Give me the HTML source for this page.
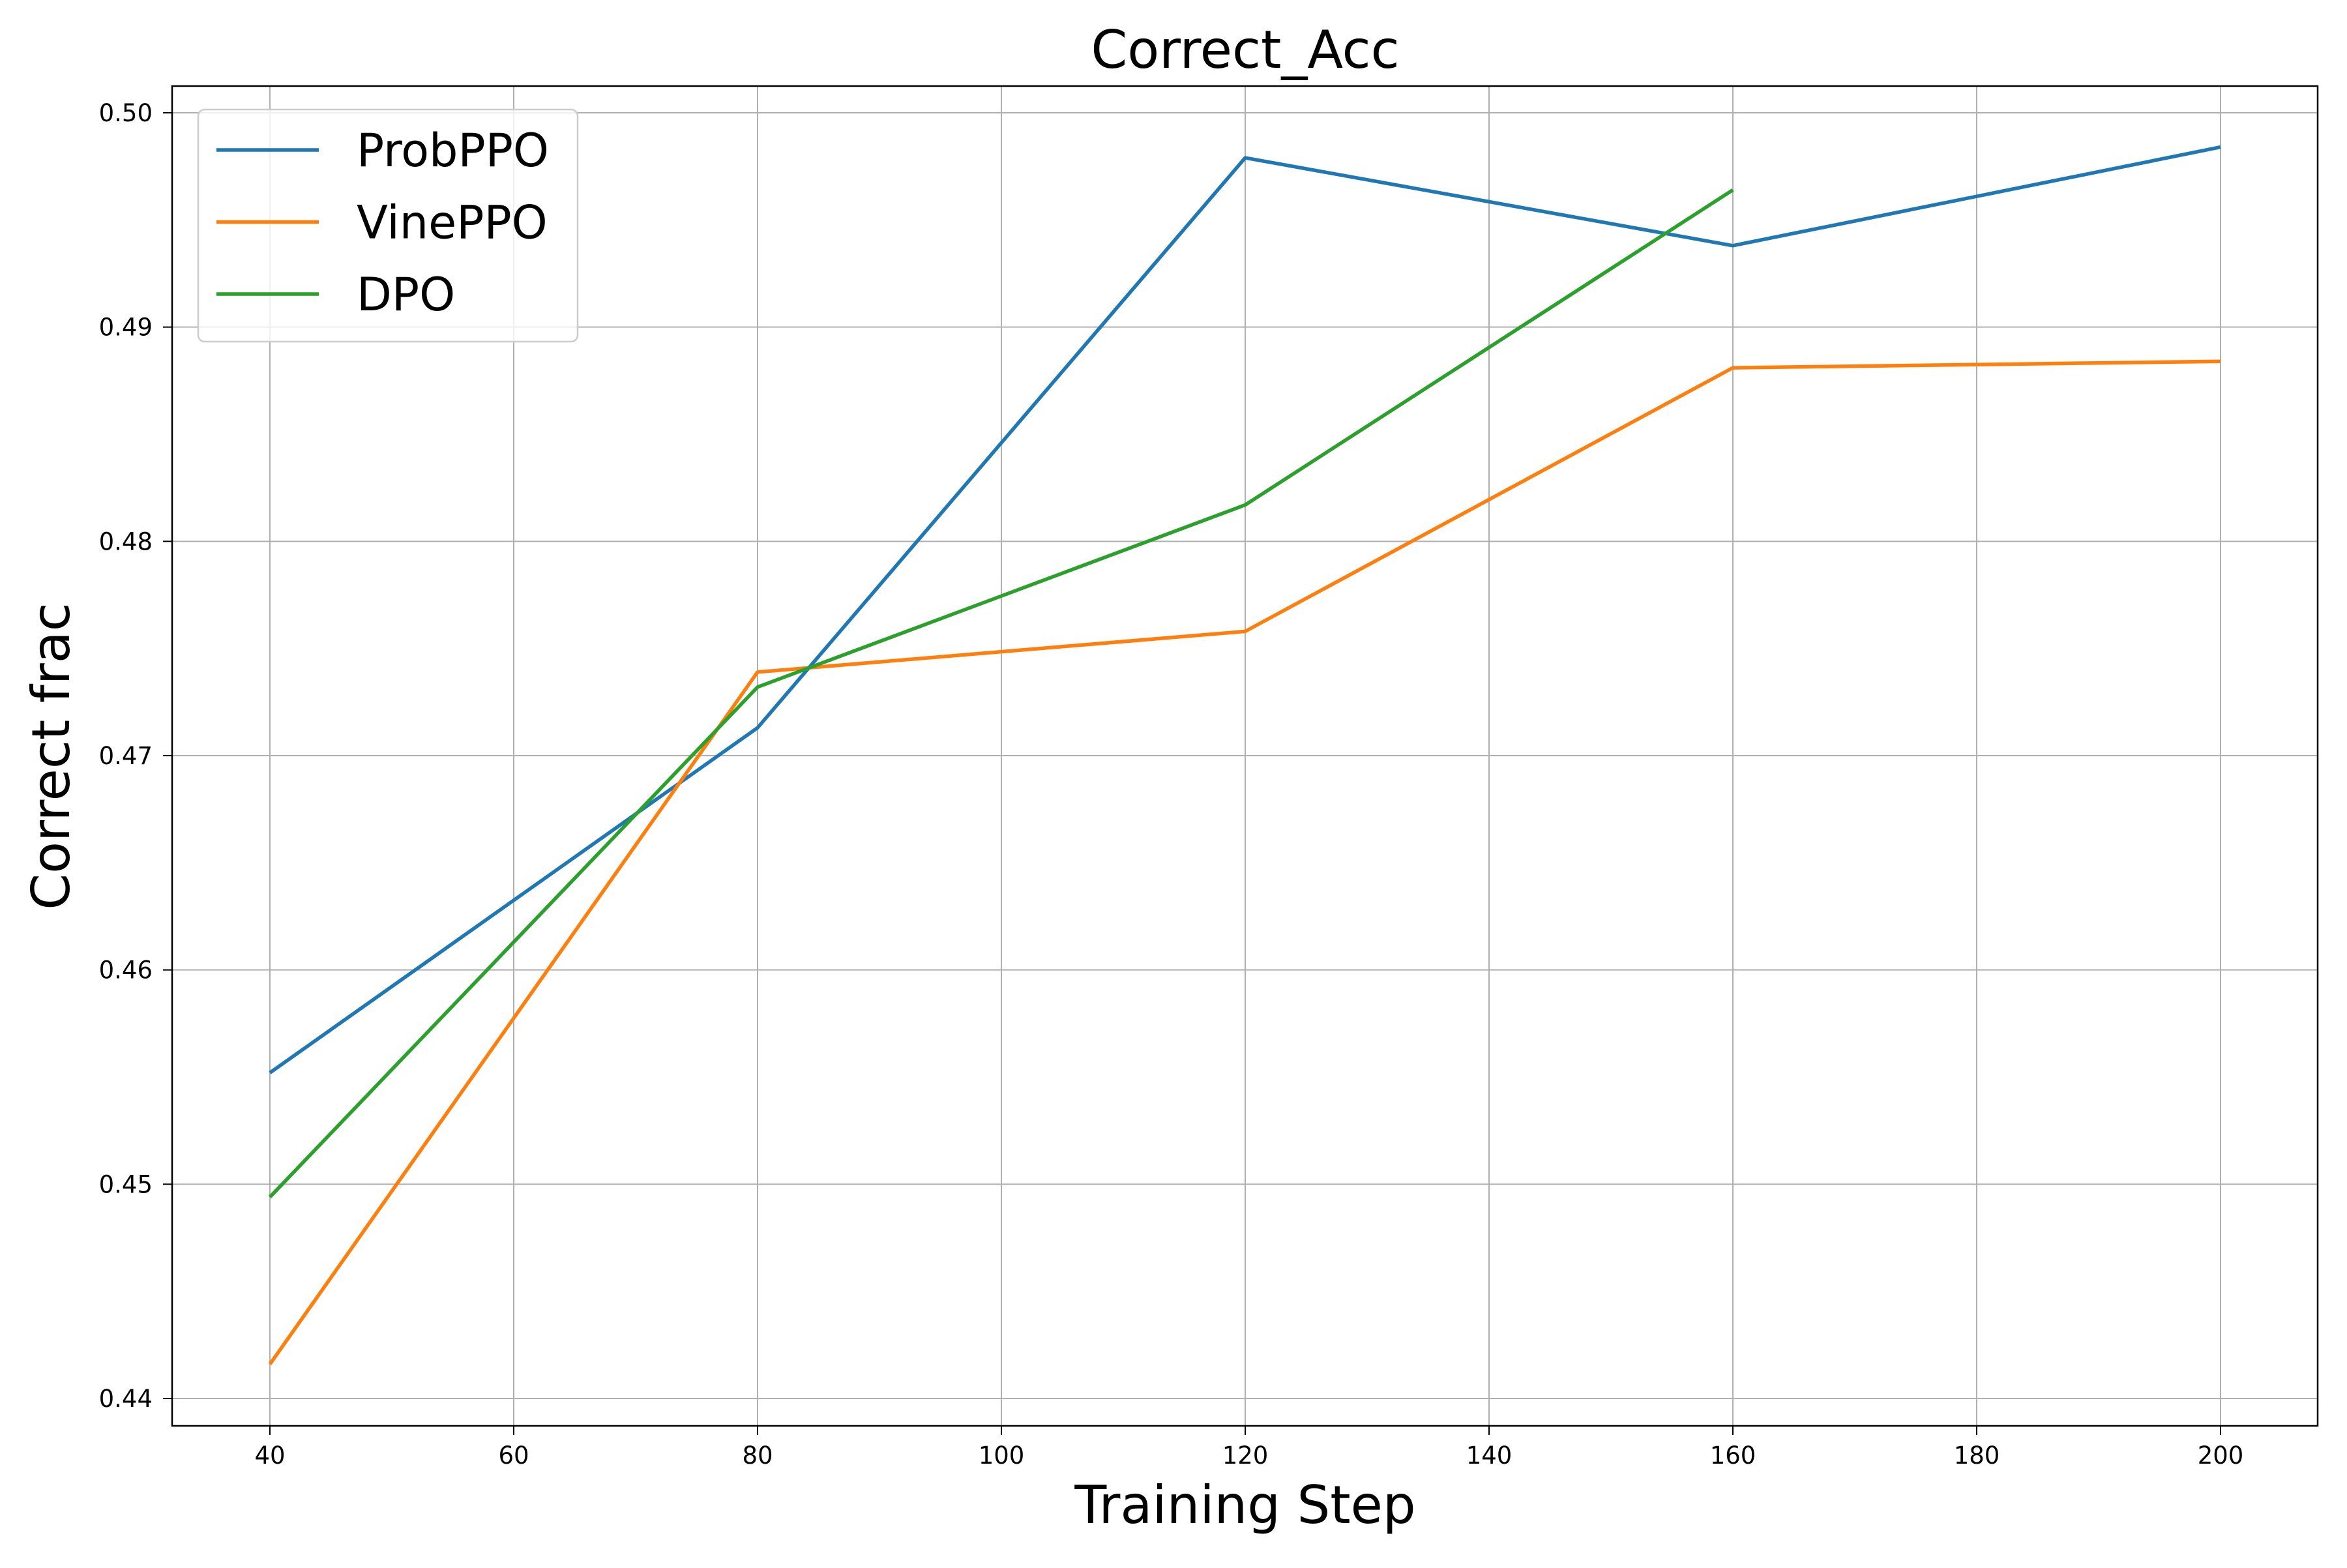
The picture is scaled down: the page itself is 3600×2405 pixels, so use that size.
<!DOCTYPE html>
<html><head><meta charset="utf-8"><style>
html,body{margin:0;padding:0;background:#fff;}
svg text{font-family:"DejaVu Sans","Liberation Sans",sans-serif;}
</style></head><body>
<svg id="chart" width="3600" height="2400" viewBox="0 0 3600 2400" xmlns="http://www.w3.org/2000/svg">
<rect width="3600" height="2400" fill="#fff"/>
<g id="grid"></g>
<g id="ticks"></g>
<g id="series"></g>
<rect x="264" y="132" width="3291" height="2055" fill="none" stroke="#000" stroke-width="2.5"/>
<text x="1910" y="104" font-size="80" text-anchor="middle">Correct_Acc</text>
<text x="1910" y="2336" font-size="80" text-anchor="middle">Training Step</text>
<text x="0" y="0" font-size="80" text-anchor="middle" transform="translate(106,1160) rotate(-90)">Correct frac</text>
<g id="legend"></g>
</svg>
<script>
const steps=[40,80,120,160,200];
const probPPO=[0.4552,0.4713,0.4979,0.4938,0.4984];
const vinePPO=[0.4416,0.4739,0.4758,0.4881,0.4884];
const dpo=[0.4494,0.4732,0.4817,0.4964];
const xTicks=[40,60,80,100,120,140,160,180,200];
const yTicks=[0.44,0.45,0.46,0.47,0.48,0.49,0.50];
const yTickLabels=["0.44","0.45","0.46","0.47","0.48","0.49","0.50"];
const seriesNames=["ProbPPO","VinePPO","DPO"];
const NS="http://www.w3.org/2000/svg";
const X=v=>414+(v-40)*(3406-414)/160;
const Y=v=>2145-(v-0.44)*(2145-173)/0.06;
function mk(tag,attrs,parent){const e=document.createElementNS(NS,tag);for(const k in attrs)e.setAttribute(k,attrs[k]);parent.appendChild(e);return e;}
const grid=document.getElementById('grid'),ticks=document.getElementById('ticks'),ser=document.getElementById('series'),leg=document.getElementById('legend');
xTicks.forEach(t=>{
 const l=mk('line',{x1:X(t),x2:X(t),y1:132,y2:2187,stroke:'#b0b0b0','stroke-width':2},grid);
 
 
 mk('line',{x1:X(t),x2:X(t),y1:2187,y2:2201,stroke:'#000','stroke-width':2},ticks);
 const tx=mk('text',{x:X(t),y:2245,'font-size':37,'text-anchor':'middle'},ticks);tx.textContent=t;
 
 
});
yTicks.forEach((t,i)=>{
 const l=mk('line',{x1:264,x2:3555,y1:Y(t),y2:Y(t),stroke:'#b0b0b0','stroke-width':2},grid);
 
 
 mk('line',{x1:250,x2:264,y1:Y(t),y2:Y(t),stroke:'#000','stroke-width':2},ticks);
 const tx=mk('text',{x:234,y:Y(t)+13,'font-size':37,'text-anchor':'end'},ticks);tx.textContent=yTickLabels[i];
 
 
});
const colors=['#1f77b4','#ff7f0e','#2ca02c'];
[probPPO,vinePPO,dpo].forEach((s,i)=>{
 const p=mk('polyline',{points:s.map((v,j)=>X(steps[j])+','+Y(v)).join(' '),fill:'none',stroke:colors[i],'stroke-width':5.5,'stroke-linejoin':'round'},ser);
 
 
});
const box=mk('rect',{x:304,y:168,width:582,height:356,rx:10,fill:'#fff','fill-opacity':0.8,stroke:'#ccc','stroke-width':2.5},leg);


seriesNames.forEach((n,i)=>{
 const y=230+i*110.5;
 const g=mk('g',{},leg);
 
 
 mk('line',{x1:332,x2:489,y1:y,y2:y,stroke:colors[i],'stroke-width':5.5},g);
 const t=mk('text',{x:547,y:y+25,'font-size':70},g);t.textContent=n;
});
</script>
</body></html>
